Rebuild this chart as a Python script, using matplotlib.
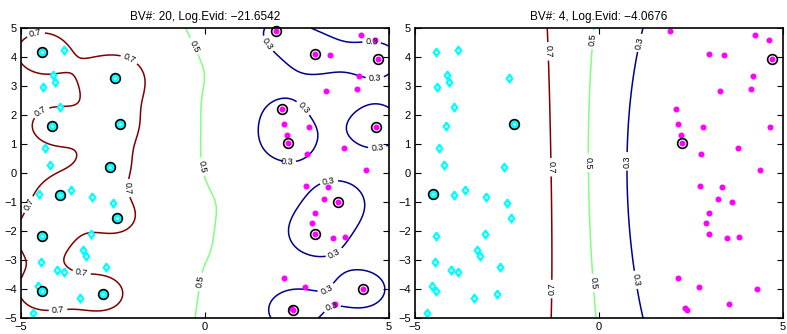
import numpy as np
import matplotlib
matplotlib.use('Agg')
import matplotlib.pyplot as plt

plt.rcParams['font.family'] = ['Liberation Sans', 'DejaVu Sans']

# training points, class +1 (cyan diamonds)
pos_x = [-4.43, -3.84, -4.13, -4.07, -4.41, -2.45, -3.95, -4.16, -2.32, -4.35, -4.20,
         -2.57, -4.50, -3.93, -3.65, -3.06, -2.49, -2.40, -4.43, -3.09, -3.31, -3.24,
         -4.45, -4.01, -3.84, -2.69, -4.55, -4.43, -2.77, -3.39, -4.68]
pos_y = [4.16, 4.23, 3.37, 3.13, 2.95, 3.27, 2.28, 1.63, 1.69, 0.85, 0.26,
         0.20, -0.74, -0.76, -0.60, -0.84, -1.03, -1.54, -2.16, -2.10, -2.66, -2.85,
         -3.07, -3.36, -3.40, -3.25, -3.89, -4.07, -4.16, -4.32, -4.82]

# training points, class -1 (magenta dots)
neg_x = [1.94, 4.23, 4.61, 2.99, 3.39, 4.69, 4.18, 4.14, 3.29, 2.08, 2.16,
         2.83, 4.64, 2.22, 2.25, 3.79, 2.78, 4.38, 2.75, 3.35, 3.24, 3.62,
         2.99, 2.91, 2.99, 3.49, 3.81, 2.16, 2.72, 4.29, 3.52, 2.33, 2.38]
neg_y = [4.90, 4.76, 4.58, 4.09, 4.08, 3.92, 3.33, 2.89, 2.82, 2.20, 1.68,
         1.58, 1.58, 1.32, 1.05, 0.85, 0.67, 0.12, -0.44, -0.47, -0.91, -1.00,
         -1.39, -1.72, -2.10, -2.25, -2.19, -3.62, -3.94, -4.01, -4.52, -4.67, -4.72]

# model with 20 basis vectors: RBF width and weight of each BV (sign = class)
bv20_x = [-4.43, -2.45, -4.16, -2.32, -2.57, -3.93, -2.40, -4.43, -4.43, -2.77,
          1.94, 2.99, 4.69, 2.08, 2.25, 4.64, 3.62, 2.99, 4.29, 2.38]
bv20_y = [4.16, 3.27, 1.63, 1.69, 0.20, -0.76, -1.54, -2.16, -4.07, -4.16,
          4.90, 4.09, 3.92, 2.20, 1.05, 1.58, -1.00, -2.10, -4.01, -4.72]
bv20_w = [1.30, 1.50, 1.10, 0.93, 0.93, 1.10, 1.02, 1.22, 1.19, 1.10,
          -0.85, -1.06, -1.10, -0.76, -1.19, -1.36, -1.27, -1.27, -1.19, -1.27]
ell20 = 0.72

# model with 4 basis vectors: wide RBF, weights fitted to the labels
bv4_x = [-2.32, -4.50, 4.69, 2.25]
bv4_y = [1.69, -0.74, 3.92, 1.05]
bv4_cls = [1, 1, -1, -1]
ell4 = 8.0
gain4 = 2.5
bias4 = 0.14

titles = ['BV#: 20, Log.Evid: \u221221.6542', 'BV#: 4, Log.Evid: \u22124.0676']
levels = [0.3, 0.5, 0.7]
line_colors = ['#00008f', '#80ff80', '#800000']

lab20 = [(-4.6, 4.8), (-2.26, 3.38), (-4.50, 2.2), (-4.68, -1.16), (-2.17, -0.53),
         (-3.31, -3.11), (-3.99, -4.78),
         (-0.32, 4.36), (-0.15, 0.2), (-0.14, -3.75),
         (1.72, 4.47), (4.53, 4.59), (4.62, 2.95), (2.76, 2.34), (4.67, 1.05),
         (2.22, 0.36), (3.35, -0.18), (3.49, -2.71), (3.21, -3.83), (3.49, -4.78)]
lab4 = [(-1.30, 4.2), (-1.33, 0.2), (-1.36, -4.0),
        (-0.2, 4.6), (-0.2, 0.35), (-0.2, -3.8),
        (0.87, 4.55), (0.9, 0.4), (0.93, -3.7)]

# diamond a bit wider than matplotlib's thin 'd'
diamond = [(0, 1), (0.72, 0), (0, -1), (-0.72, 0), (0, 1)]


def kern(x, y, bx, by, ell):
    d2 = np.subtract.outer(x, bx) ** 2 + np.subtract.outer(y, by) ** 2
    return np.exp(-d2 / (2 * ell ** 2))


g = np.linspace(-5, 5, 241)
gx, gy = np.meshgrid(g, g)

# 20 BV model
f20 = kern(gx.ravel(), gy.ravel(), bv20_x, bv20_y, ell20) @ np.array(bv20_w)
p20 = 1 / (1 + np.exp(-f20.reshape(gx.shape)))
bv20_cls = np.sign(bv20_w)

# 4 BV model, least squares on the +-1 labels
X = np.r_[pos_x, neg_x]
Y = np.r_[pos_y, neg_y]
t = np.r_[np.ones(len(pos_x)), -np.ones(len(neg_x))]
K = kern(X, Y, bv4_x, bv4_y, ell4)
alpha4 = np.linalg.lstsq(K, t, rcond=None)[0]
f4 = kern(gx.ravel(), gy.ravel(), bv4_x, bv4_y, ell4) @ alpha4
p4 = 1 / (1 + np.exp(-(gain4 * f4.reshape(gx.shape) + bias4)))

fig = plt.figure(figsize=(7.87, 3.34), dpi=100)
ax1 = fig.add_axes([21 / 787, 16 / 334, 368 / 787, 290 / 334])
ax2 = fig.add_axes([415 / 787, 16 / 334, 368 / 787, 290 / 334])


def draw(ax, prob, bvx, bvy, bvcls, title, labpos):
    cs = ax.contour(gx, gy, prob, levels=levels, colors=line_colors, linewidths=1.1)
    ax.clabel(cs, inline=True, fmt='%.1f', fontsize=6.5, colors='k',
              manual=labpos, inline_spacing=3)
    ax.plot(pos_x, pos_y, ls='none', marker=diamond, color='cyan', mec='cyan',
            ms=6.5, clip_on=False)
    ax.plot(neg_x, neg_y, 'o', color='magenta', mec='magenta', ms=3.3, clip_on=False)
    bvx = np.asarray(bvx)
    bvy = np.asarray(bvy)
    bvcls = np.asarray(bvcls)
    c = bvcls > 0
    ax.plot(bvx[c], bvy[c], 'o', mfc='cyan', mec='k', mew=1.2, ms=7, clip_on=False)
    ax.plot(bvx[~c], bvy[~c], 'o', mfc='none', mec='k', mew=1.2, ms=7, clip_on=False)
    ax.plot(pos_x, pos_y, '.', color='white', ms=1.5, clip_on=False)
    ax.set_xlim(-5, 5)
    ax.set_ylim(-5, 5)
    ax.set_xticks([-5, 0, 5])
    ax.set_yticks(range(-5, 6))
    ax.tick_params(direction='in', length=4, width=0.8, top=True, right=True,
                   labelsize=8, pad=3)
    for s in ax.spines.values():
        s.set_linewidth(1.2)
    ax.set_title(title, fontsize=8.5, pad=6)


draw(ax1, p20, bv20_x, bv20_y, bv20_cls, titles[0], lab20)
draw(ax2, p4, bv4_x, bv4_y, bv4_cls, titles[1], lab4)

fig.savefig('out.png', dpi=100)
